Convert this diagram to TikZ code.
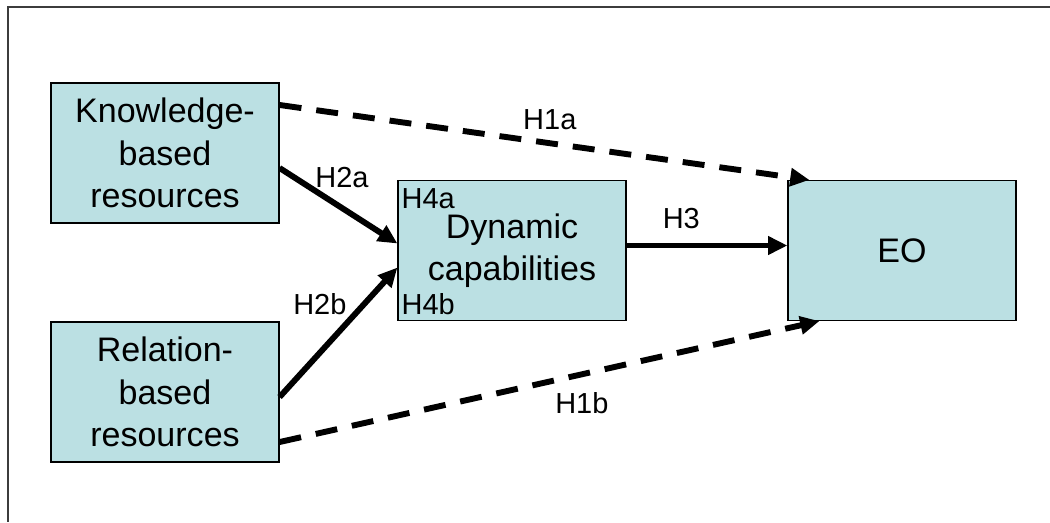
\documentclass[tikz,border=0pt]{standalone}
\usepackage{fontspec}
\setmainfont{Liberation Sans}
\usetikzlibrary{arrows.meta}
\definecolor{boxfill}{RGB}{187,224,227}
\definecolor{framegray}{RGB}{60,60,60}
\begin{document}
\begin{tikzpicture}[x=0.025cm,y=-0.025cm]
  \tikzstyle{box}=[rectangle,draw,line width=0.8pt,fill=boxfill,minimum width=5.7cm,minimum height=3.5cm,inner sep=0pt,align=center,font=\fontsize{24.2}{30}\selectfont]
  \tikzstyle{lbl}=[inner sep=0pt,font=\fontsize{20.6}{24.7}\selectfont]
  \tikzstyle{link}=[line width=4.2pt,-{Triangle[length=0.48cm,width=0.44cm]}]
  \tikzstyle{weak}=[link,dash pattern=on 0.55cm off 0.375cm]
  \useasboundingbox (0,0) rectangle (1050,522);
  \draw[framegray,line width=1.4pt] (1050,7) -- (8,7) -- (8,522);

  \node[box] (knowledge) at (165,153) {Knowledge-\\based\\resources};
  \node[box] (relation) at (165,392) {Relation-\\based\\resources};
  \node[box] (dynamic) at (512,250.5) {Dynamic\\capabilities};
  \node[box] (eo) at (902,250.5) {EO};

  \node[lbl,anchor=north west] (h4a) at ([xshift=0.1cm,yshift=-0.2cm]dynamic.north west) {H4a};
  \node[lbl,anchor=base west] (h4b) at ([xshift=0.1cm,yshift=0.175cm]dynamic.south west) {H4b};

  \draw[weak] ([yshift=1.2cm]knowledge.east) -- ([xshift=0.55cm]eo.north west)
    node[lbl,pos=0.51,yshift=0.6cm] (h1a) {H1a};
  \draw[link] ([yshift=-0.375cm]knowledge.east) -- ([yshift=0.175cm]dynamic.west)
    node[lbl,pos=0.53,yshift=0.77cm] (h2a) {H2a};
  \draw[link] ([yshift=-0.125cm]relation.east) -- ([yshift=-0.425cm]dynamic.west)
    node[lbl,pos=0.715,xshift=-1.1cm] (h2b) {H2b};
  \draw[link] ([yshift=0.125cm]dynamic.east) -- ([yshift=0.125cm]eo.west)
    node[lbl,pos=0.34,yshift=0.675cm] (h3) {H3};
  \draw[weak] ([yshift=-1.25cm]relation.east) -- ([xshift=0.8cm]eo.south west)
    node[lbl,pos=0.56,yshift=-0.72cm] (h1b) {H1b};
\end{tikzpicture}
\end{document}
